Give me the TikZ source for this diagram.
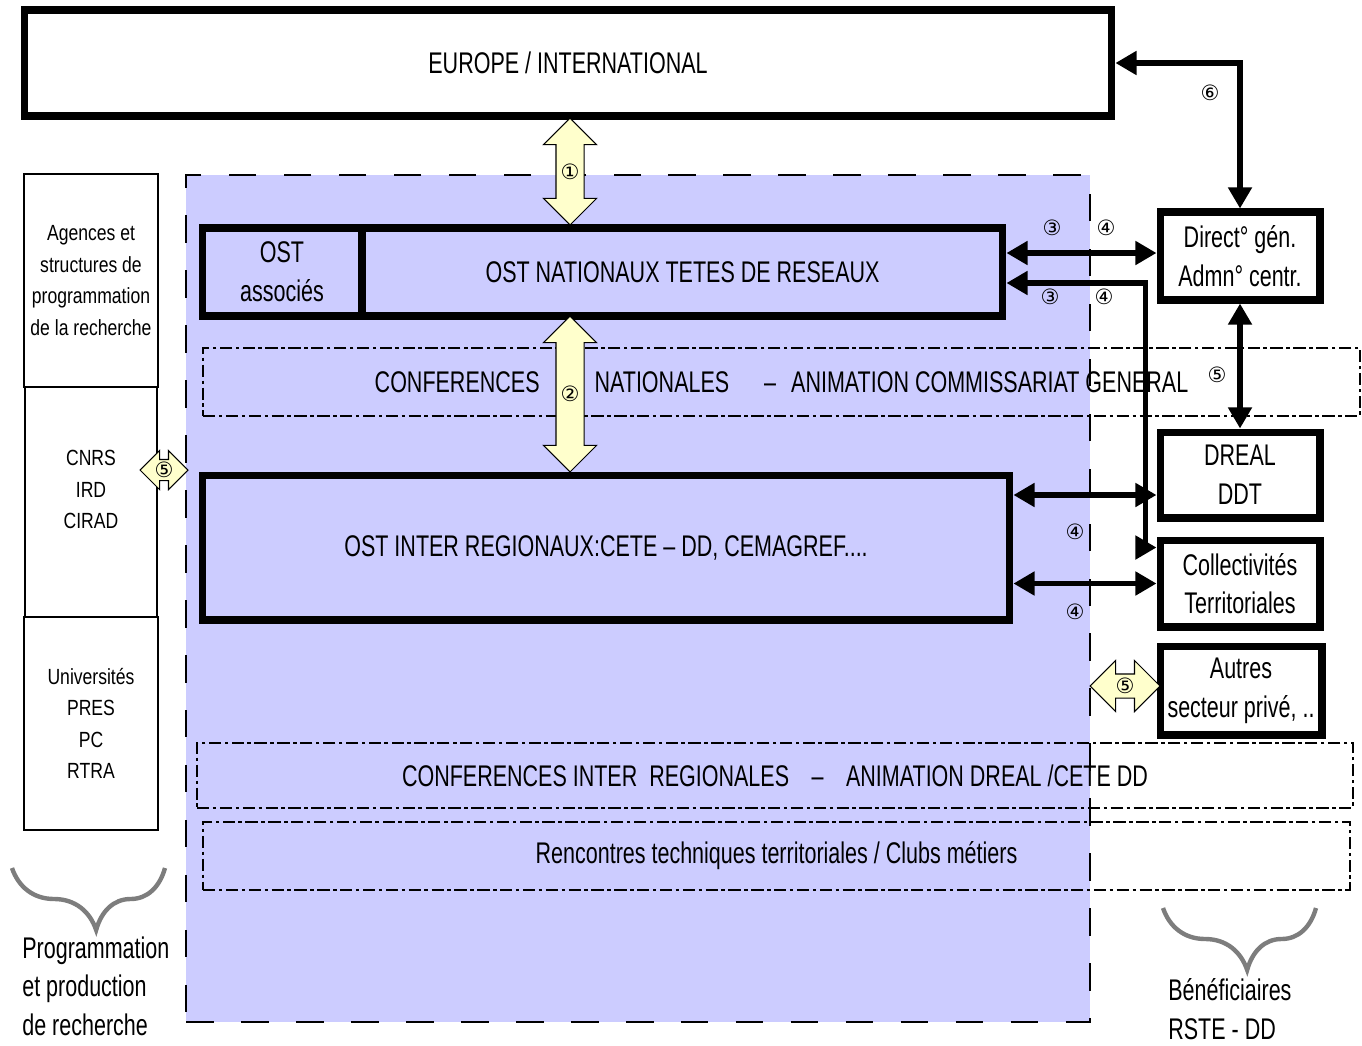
\documentclass[tikz,border=0pt]{standalone}
\usepackage{fontspec}
\setmainfont{Liberation Sans}[FakeStretch=0.72]
\newfontfamily\sidefont{Liberation Sans}[FakeStretch=0.8]
\newfontfamily\numfont{DejaVu Sans}
\usetikzlibrary{arrows.meta, positioning, shapes.arrows, decorations.pathreplacing}
\definecolor{lav}{RGB}{204,204,255}
\definecolor{pale}{RGB}{255,255,204}
\definecolor{brgray}{RGB}{125,125,125}

\begin{document}
\begin{tikzpicture}[x=0.02cm, y=-0.02cm,
  every node/.style={font=\fontsize{17}{22}\selectfont, align=center, inner sep=0pt},
  big/.style={rectangle, draw, fill=white, line width=4pt},
  clear/.style={big, fill=none},
  dotbox/.style={rectangle, draw, line width=0.8pt,
                 dash pattern=on 7pt off 2pt on 2pt off 2pt},
  side/.style={rectangle, draw, line width=1pt, outer sep=0pt,
               font=\sidefont\fontsize{12.5}{18}\selectfont},
  fat/.style={double arrow, draw, fill=pale, line width=0.6pt},
  link/.style={{Triangle[length=12pt,width=13pt]}-{Triangle[length=12pt,width=13pt]},
               line width=3pt},
  num/.style={font=\numfont\fontsize{12}{12}\selectfont},
  curly/.style={decorate, decoration={brace, amplitude=1.24cm, aspect=0.45},
                draw=brgray, line width=2.5pt},
]
\useasboundingbox (0,0) rectangle (1362,1045);

% zone OST
\node[fill=lav, draw, line width=1.5pt, dash pattern=on 0.55cm off 0.55cm,
      minimum width=18.08cm, minimum height=16.94cm] (zone) at (638,598.5) {};

\node[big, minimum width=21.76cm, minimum height=2.12cm] (europe) at (568,63)
  {EUROPE / INTERNATIONAL};

\node[clear, minimum width=3.2cm, minimum height=1.76cm] (ostas) at (282,272)
  {OST\\associés};
\node[clear, minimum width=12.82cm, minimum height=1.76cm] (ostnat) at (682.5,272)
  {OST NATIONAUX TETES DE RESEAUX};
\node[dotbox, minimum width=23.14cm, minimum height=1.36cm] (confnat) at (781.5,382)
  {CONFERENCES\hspace{1.1cm}NATIONALES\hspace{0.7cm}--\hspace{0.3cm}ANIMATION COMMISSARIAT GENERAL};
\node[clear, minimum width=16.16cm, minimum height=2.9cm] (ostreg) at (606,547.5)
  {OST INTER REGIONAUX:CETE -- DD, CEMAGREF....};
\node[dotbox, minimum width=23.12cm, minimum height=1.3cm] (confreg) at (775,775.5)
  {CONFERENCES INTER\ \ REGIONALES\hspace{0.45cm}--\hspace{0.45cm}ANIMATION DREAL /CETE DD};
\node[dotbox, minimum width=22.94cm, minimum height=1.36cm] (renc) at (776.5,856)
  {Rencontres techniques territoriales / Clubs métiers};

% beneficiaires
\node[big, minimum width=3.2cm, minimum height=1.76cm] (direct) at (1240,256)
  {Direct° gén.\\Admn° centr.};
\node[big, minimum width=3.2cm, minimum height=1.72cm] (dreal) at (1240,475)
  {DREAL\\DDT};
\node[big, minimum width=3.2cm, minimum height=1.74cm] (coll) at (1240,583.5)
  {Collectivités\\Territoriales};
\node[big, minimum width=3.24cm, minimum height=1.78cm] (autres) at (1241,690.5)
  {Autres\\secteur privé, ..};

% recherche
\node[side, minimum width=2.68cm, minimum height=4.26cm] (agences) at (91,280.5)
  {Agences et\\structures de\\programmation\\de la recherche};
\node[side, minimum width=2.64cm, minimum height=4.6cm, text depth=0.5cm,
      below=0pt of agences] (cnrs)
  {CNRS\\IRD\\CIRAD};
\node[side, minimum width=2.68cm, minimum height=4.26cm, below=0pt of cnrs] (univ)
  {Universités\\PRES\\PC\\RTRA};

% liens
\draw[link] (europe.east) -| (direct.north);
\draw[link] ([yshift=0.38cm]ostnat.east) -- ([yshift=0.38cm]ostnat.east -| direct.west);
\draw[link] ([yshift=-0.22cm]ostnat.east) -- ++(2.78cm,0) |- ([yshift=0.72cm]coll.west);
\draw[link] (direct.south) -- (dreal.north);
\draw[link] ([yshift=-0.4cm]dreal.west) -- ([yshift=-0.4cm]dreal.west -| ostreg.east);
\draw[link] (coll.west) -- (coll.west -| ostreg.east);

\node[fat, rotate=90, minimum height=2.14cm, inner ysep=0.27cm,
      double arrow head extend=0.25cm] (a1) at (570,171.5) {};
\node[fat, rotate=90, minimum height=3.12cm, inner ysep=0.27cm,
      double arrow head extend=0.25cm] (a2) at (570,394) {};
\node[fat, minimum height=0.96cm, inner ysep=0.2cm,
      double arrow head extend=0.18cm] (a5l) at (164,470) {};
\node[fat, minimum height=1.4cm, inner ysep=0.23cm,
      double arrow head extend=0.27cm] (a5r) at (1125,686) {};

\node[num] (n1) at (a1) {①};
\node[num] (n2) at (a2) {②};
\node[num] (n5l) at (a5l) {⑤};
\node[num] (n5r) at (a5r) {⑤};
\node[num] (n6) at (1210,93) {⑥};
\node[num] (n3a) at (1052,228) {③};
\node[num] (n4a) at (1106,228) {④};
\node[num] (n3b) at (1050,297) {③};
\node[num] (n4b) at (1104,297) {④};
\node[num] (n5) at (1217,375) {⑤};
\node[num] (n4c) at (1075,532) {④};
\node[num] (n4d) at (1075,612) {④};

% accolades
\draw[curly] (165,868) -- (12,868);
\draw[curly] (1316,908) -- (1163,908);
\node[anchor=north west, align=left] (prog) at (22,936)
  {Programmation\\et production\\de recherche};
\node[anchor=north west, align=left] (benef) at (1168,978)
  {Bénéficiaires\\RSTE - DD};

\end{tikzpicture}
\end{document}
